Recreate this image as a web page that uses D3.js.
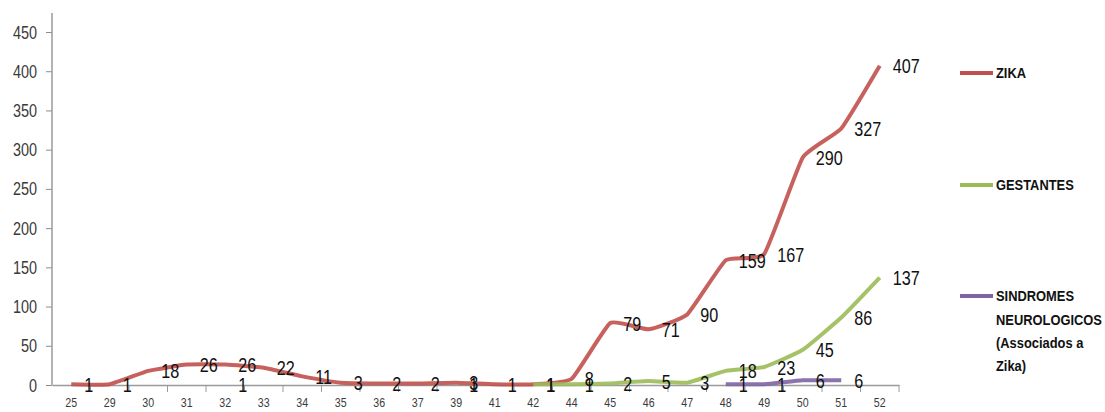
<!DOCTYPE html>
<html>
<head>
<meta charset="utf-8">
<script src="https://cdn.jsdelivr.net/npm/d3@7"></script>
<style>
  body { margin: 0; background: #fff; }
  svg { display: block; }
  text { font-family: 'Liberation Sans', Arial, sans-serif; }
</style>
</head>
<body>
<div id="chart"></div>
<script>
// semanas epidemiologicas
const weeks = ["25", "29", "30", "31", "32", "33", "34", "35", "36", "37", "39", "41",
               "42", "44", "45", "46", "47", "48", "49", "50", "51", "52"];
const zika = [1, 1, 18, 26, 26, 22, 11, 3, 2, 2, 3, 1,
              1, 8, 79, 71, 90, 159, 167, 290, 327, 407];
const gestantes = [null, null, null, null, null, null, null, null, null, null, null, null,
                   1, 1, 2, 5, 3, 18, 23, 45, 86, 137];
const sindromes = [null, null, null, null, 1, null, null, null, null, null, 1, null,
                   null, null, null, null, null, 1, 1, 6, 6, null];
const yTicks = [0, 50, 100, 150, 200, 250, 300, 350, 400, 450];

const w = 1105;
const h = 412;
const colors = ["#c0504d", "#9bbb59", "#8064a2"];

const svg = d3.select("#chart")
              .append("svg")
              .attr("width", w)
              .attr("height", h);

const xScale = d3.scaleBand()
                 .domain(weeks)
                 .range([52, 899]);
const yScale = d3.scaleLinear()
                 .domain([0, 450])
                 .range([385, 32]);

// axes
const yAxis = d3.axisLeft(yScale).tickValues(yTicks).tickSize(6).tickSizeOuter(0);
const gy = svg.append("g")
              .attr("transform", "translate(52, 0)")
              .call(yAxis);
gy.select(".domain").remove();
gy.selectAll("line").attr("stroke", "#8c8c8c");
gy.selectAll("text")
  .attr("x", -15 / 0.76)
  .attr("transform", "scale(0.76,1)")
  .attr("fill", "#3a3a3a")
  .style("font-size", "19px");

svg.append("line")
   .attr("x1", 52).attr("x2", 52)
   .attr("y1", 13).attr("y2", yScale(0))
   .attr("stroke", "#9a9a9a")
   .attr("stroke-width", 1.5);

const xAxis = d3.axisBottom(xScale).tickSize(0);
const gx = svg.append("g")
              .attr("transform", `translate(0, ${yScale(0)})`)
              .call(xAxis);
gx.select(".domain").attr("stroke", "#9a9a9a").attr("stroke-width", 1.5);
gx.selectAll("text")
  .attr("y", 13)
  .attr("transform", "scale(0.85,1)")
  .attr("fill", "#3a3a3a")
  .style("font-size", "12.5px");

// tick marks between categories
const edges = weeks.map(d => xScale(d)).concat([xScale.range()[1]]);
gx.selectAll("line.edge")
  .data(edges.slice(1))
  .enter().append("line")
  .attr("class", "edge")
  .attr("x1", d => d).attr("x2", d => d)
  .attr("y1", 0).attr("y2", 7)
  .attr("stroke", "#9a9a9a");

const xPos = i => xScale(weeks[i]) + xScale.bandwidth() / 2;

const line = d3.line()
               .defined(d => d.v != null)
               .x(d => xPos(d.i))
               .y(d => yScale(d.v))
               .curve(d3.curveCardinal.tension(0.6));

const allSeries = [zika, gestantes, sindromes];

allSeries.forEach((vals, k) => {
    const pts = vals.map((v, i) => ({i: i, v: v}));
    svg.append("path")
       .datum(pts)
       .attr("fill", "none")
       .attr("stroke", colors[k])
       .attr("stroke-width", 4)
       .attr("stroke-opacity", 0.9)
       .attr("d", line);
});

// data labels to the right of each point
allSeries.forEach((vals, k) => {
    const pts = vals.map((v, i) => ({i: i, v: v})).filter(d => d.v != null);
    svg.append("g")
       .selectAll("text")
       .data(pts)
       .enter().append("text")
       .attr("transform", d => `translate(${xPos(d.i) + 13}, ${yScale(d.v)}) scale(0.77,1)`)
       .attr("dy", "0.36em")
       .attr("fill", "#111")
       .style("font-size", "21px")
       .text(d => d.v);
});

// legend
const legendRows = [
    {y: 73, lines: ["ZIKA"]},
    {y: 185, lines: ["GESTANTES"]},
    {y: 296, lines: ["SINDROMES", "NEUROLOGICOS", "(Associados a", "Zika)"]}
];
legendRows.forEach((r, k) => {
    svg.append("line")
       .attr("x1", 960).attr("x2", 993)
       .attr("y1", r.y).attr("y2", r.y)
       .attr("stroke", colors[k])
       .attr("stroke-width", 4);
    const t = svg.append("text")
                 .attr("transform", `translate(996, ${r.y}) scale(0.86,1)`)
                 .attr("fill", "#111")
                 .style("font-size", "15px")
                 .style("font-weight", "bold");
    r.lines.forEach((s, j) => {
        t.append("tspan")
         .attr("x", 0)
         .attr("dy", j === 0 ? "0.36em" : "1.55em")
         .text(s);
    });
});
</script>
</body>
</html>
